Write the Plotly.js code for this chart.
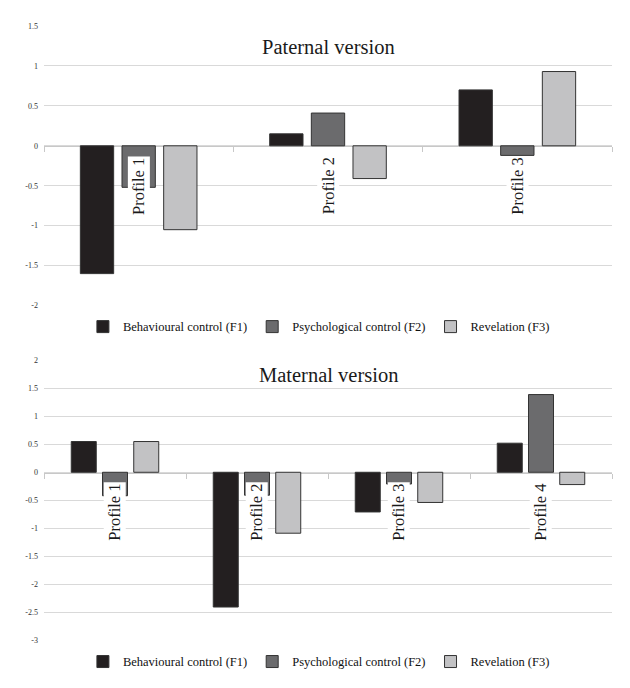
<!DOCTYPE html>
<html>
<head>
<meta charset="utf-8">
<script src="https://cdn.plot.ly/plotly-3.0.1.min.js"></script>
<style>html,body{margin:0;padding:0;background:#fff;}#chart{width:630px;height:688px;}</style>
</head>
<body>
<div id="chart"></div>
<script>
// ---- Data ----
const seriesNames = ['Behavioural control (F1)', 'Psychological control (F2)', 'Revelation (F3)'];

const paternalTitle = 'Paternal version';
const paternalCategories = ['Profile 1', 'Profile 2', 'Profile 3'];
const paternalF1 = [-1.60, 0.15, 0.70];
const paternalF2 = [-0.52, 0.41, -0.12];
const paternalF3 = [-1.05, -0.41, 0.93];
const paternalTickVals = [1.5, 1, 0.5, 0, -0.5, -1, -1.5, -2];
const paternalTickText = ['1.5', '1', '0.5', '0', '-0.5', '-1', '-1.5', '-2'];

const maternalTitle = 'Maternal version';
const maternalCategories = ['Profile 1', 'Profile 2', 'Profile 3', 'Profile 4'];
const maternalF1 = [0.55, -2.41, -0.71, 0.52];
const maternalF2 = [-0.42, -0.41, -0.21, 1.39];
const maternalF3 = [0.55, -1.09, -0.54, -0.22];
const maternalTickVals = [2, 1.5, 1, 0.5, 0, -0.5, -1, -1.5, -2, -2.5, -3];
const maternalTickText = ['2', '1.5', '1', '0.5', '0', '-0.5', '-1', '-1.5', '-2', '-2.5', '-3'];

// ---- Styles ----
const fills = ['#231f20', '#6b6b6d', '#c2c2c4'];
const outline = '#333333';
const serif = 'Liberation Serif, Times New Roman, serif';

function makeTraces(cats, values, xa, ya, legendId) {
  return values.map((vals, i) => ({
    type: 'bar',
    name: seriesNames[i],
    x: cats,
    y: vals,
    xaxis: xa,
    yaxis: ya,
    legend: legendId,
    marker: {color: fills[i], line: {color: outline, width: 1}},
    hoverinfo: 'x+y+name'
  }));
}

const traces = []
  .concat(makeTraces(paternalCategories, [paternalF1, paternalF2, paternalF3], 'x', 'y', 'legend'))
  .concat(makeTraces(maternalCategories, [maternalF1, maternalF2, maternalF3], 'x2', 'y2', 'legend2'));

function catLabels(cats, xref, yref) {
  return cats.map(c => ({
    text: c, x: c, y: 0, xref: xref, yref: yref,
    showarrow: false, textangle: -90, yanchor: 'top', xanchor: 'center',
    yshift: -10, bgcolor: '#ffffff', borderpad: 1,
    font: {family: serif, size: 16.5, color: '#1a1a1a'}
  }));
}

const yCommon = {
  showgrid: true, gridcolor: '#d9d9d9', gridwidth: 1,
  zeroline: false, showline: false, ticks: '',
  tickfont: {family: serif, size: 8, color: '#333'},
  ticklabelstandoff: 5, fixedrange: true
};
const xCommon = {
  type: 'category', anchor: 'free', showgrid: false, zeroline: false,
  showline: true, linecolor: '#c8c8c8', linewidth: 1,
  ticks: 'outside', tickson: 'boundaries', ticklen: 5, tickcolor: '#c8c8c8',
  showticklabels: false, layer: 'below traces', domain: [0, 1], fixedrange: true
};

const legendCommon = {
  orientation: 'h', xanchor: 'center', yanchor: 'middle', x: 0.484,
  font: {family: serif, size: 12.5, color: '#111'}, itemwidth: 30,
  bgcolor: 'rgba(0,0,0,0)'
};

const layout = {
  width: 630, height: 688,
  margin: {l: 44, r: 18, t: 26, b: 47},
  paper_bgcolor: '#ffffff', plot_bgcolor: '#ffffff',
  barmode: 'group', bargap: 0.34, bargroupgap: 0.2,
  showlegend: true,
  xaxis: Object.assign({}, xCommon, {position: 0.8049}),
  yaxis: Object.assign({}, yCommon, {domain: [0.5447, 1], range: [-2, 1.5],
    tickvals: paternalTickVals, ticktext: paternalTickText}),
  xaxis2: Object.assign({}, xCommon, {position: 0.2727}),
  yaxis2: Object.assign({}, yCommon, {domain: [0, 0.4553], range: [-3, 2],
    tickvals: maternalTickVals, ticktext: maternalTickText, anchor: 'x2'}),
  legend: Object.assign({}, legendCommon, {y: 0.5106}),
  legend2: Object.assign({}, legendCommon, {y: -0.034}),
  annotations: [
    {text: paternalTitle, xref: 'paper', yref: 'paper', x: 0.5, y: 0.9659,
     xanchor: 'center', yanchor: 'middle', showarrow: false,
     font: {family: serif, size: 20.5, color: '#1a1a1a'}},
    {text: maternalTitle, xref: 'paper', yref: 'paper', x: 0.5, y: 0.4309,
     xanchor: 'center', yanchor: 'middle', showarrow: false,
     font: {family: serif, size: 20.5, color: '#1a1a1a'}}
  ].concat(catLabels(paternalCategories, 'x', 'y'))
   .concat(catLabels(maternalCategories, 'x2', 'y2'))
};

Plotly.newPlot('chart', traces, layout, {displayModeBar: false, staticPlot: true});
</script>
</body>
</html>
